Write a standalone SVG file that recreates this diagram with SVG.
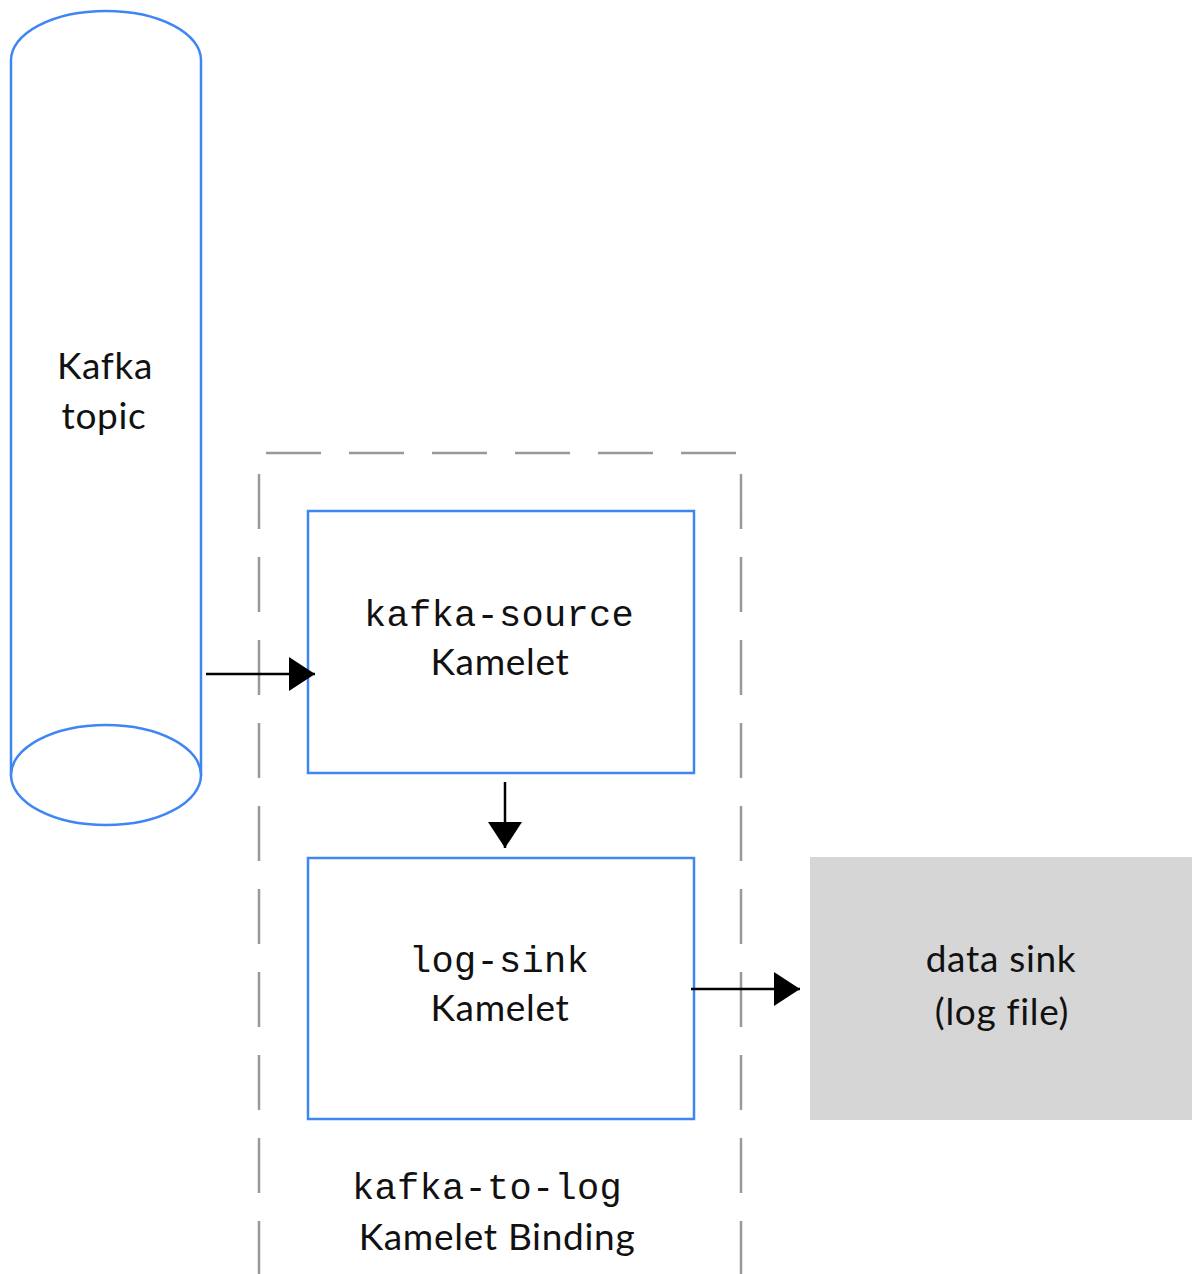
<svg xmlns="http://www.w3.org/2000/svg" width="1192" height="1274" viewBox="0 0 1192 1274">
<style>
.blue{fill:#fff;stroke:#3f86f4;stroke-width:2.5}
.dash{stroke:#999;stroke-width:2.5;fill:none;stroke-dasharray:55 28}
.t{font-family:Lato,"Open Sans",sans-serif;font-size:37px;letter-spacing:0.7px;fill:#111;text-anchor:middle}
.m{font-family:"Liberation Mono","Courier New",monospace;font-size:37px;letter-spacing:0.3px;fill:#111;text-anchor:middle}
.c{stroke:#000;stroke-width:2.5;fill:none}
</style>
<defs>
<marker id="ah" markerWidth="26" markerHeight="34" refX="26" refY="17" orient="auto" markerUnits="userSpaceOnUse">
<path d="M0,0 L26,17 L0,34 Z" fill="#000"/>
</marker>
</defs>
<rect width="1192" height="1274" fill="#fff"/>
<g id="binding">
<line class="dash" x1="266" y1="453" x2="741" y2="453"/>
<line class="dash" x1="259" y1="474" x2="259" y2="1274"/>
<line class="dash" x1="741" y1="474" x2="741" y2="1274"/>
<text class="m" x="487" y="1199">kafka-to-log</text>
<text class="t" x="497" y="1250">Kamelet Binding</text>
</g>
<g id="kafka-topic">
<path class="blue" d="M11,60 A95,49 0 0 1 201,60 L201,775 L11,775 Z"/>
<ellipse class="blue" cx="106" cy="775" rx="95" ry="50"/>
<text class="t" x="105" y="379">Kafka</text>
<text class="t" x="104" y="429">topic</text>
</g>
<g id="kafka-source">
<rect class="blue" x="308" y="511" width="386" height="262"/>
<text class="m" x="499" y="626">kafka-source</text>
<text class="t" x="500" y="675">Kamelet</text>
</g>
<g id="log-sink">
<rect class="blue" x="308" y="858" width="386" height="261"/>
<text class="m" x="499" y="972">log-sink</text>
<text class="t" x="500" y="1021">Kamelet</text>
</g>
<g id="data-sink">
<rect x="810" y="857" width="382" height="263" fill="#d6d6d6"/>
<text class="t" x="1001" y="972">data sink</text>
<text class="t" x="1002" y="1025">(log file)</text>
</g>
<g id="connectors">
<line class="c" x1="206" y1="674" x2="315" y2="674" marker-end="url(#ah)"/>
<line class="c" x1="505" y1="782" x2="505" y2="848" marker-end="url(#ah)"/>
<line class="c" x1="691" y1="989" x2="800" y2="989" marker-end="url(#ah)"/>
</g>
</svg>
